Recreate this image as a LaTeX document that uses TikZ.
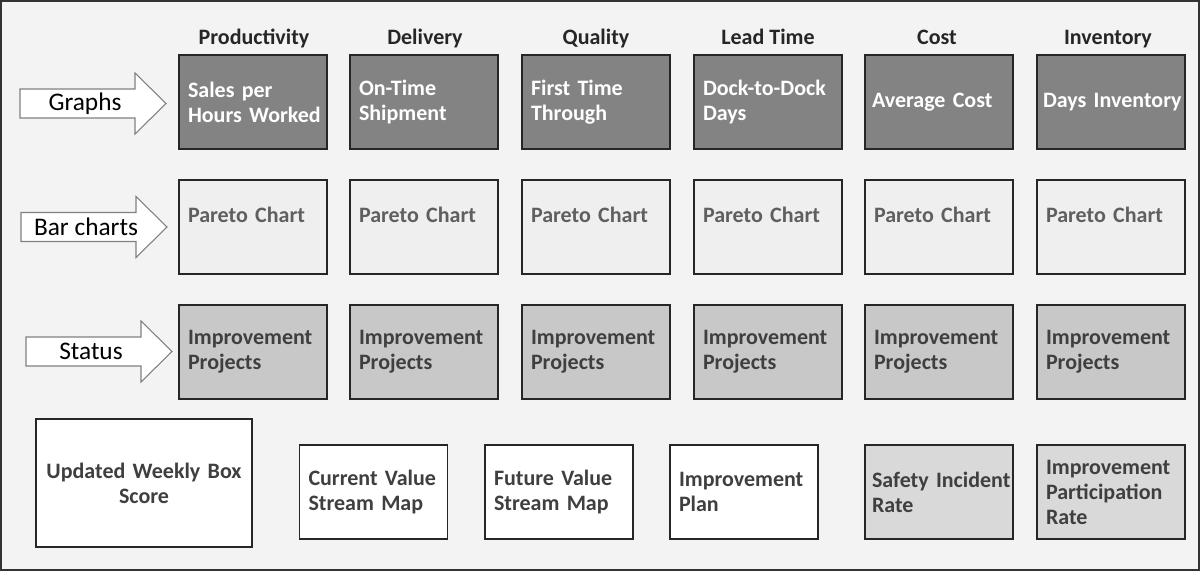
\documentclass[tikz,border=0pt]{standalone}
\usepackage{fontspec}
\setmainfont{Carlito}
\usepackage{tikz}
\usetikzlibrary{calc}
\definecolor{bgcol}{HTML}{F3F3F3}
\definecolor{framecol}{HTML}{333333}
\definecolor{kpidark}{HTML}{838383}
\definecolor{kpilight}{HTML}{EFEFEF}
\definecolor{kpimid}{HTML}{C8C8C8}
\definecolor{kpisafe}{HTML}{D9D9D9}
\definecolor{txtdark}{HTML}{3F3F3F}
\definecolor{txtgray}{HTML}{5F5F5F}
\def\nohyph{\hyphenpenalty=10000\relax\exhyphenpenalty=10000\relax}
\tikzset{
	boxfont/.style={font=\fontsize{16.5}{18.75}\selectfont\bfseries\nohyph},
	kpibox/.style={draw=black!85, line width=1.1pt, boxfont, align=left, text width=130*0.75pt, inner xsep=9*0.75pt, minimum width=111pt, minimum height=70.5pt},
	graphbox/.style={kpibox, fill=kpidark, text=white},
	paretobox/.style={kpibox, fill=kpilight, text=txtgray},
	projbox/.style={kpibox, fill=kpimid, text=txtdark},
	plainbox/.style={kpibox, fill=white, text=txtdark},
	safebox/.style={kpibox, fill=kpisafe, text=txtdark},
	header/.style={boxfont, text=black!85, anchor=base},
	arrowline/.style={draw=black!50, line width=0.8pt, fill=white},
	arrowtext/.style={font=\fontsize{19}{22}\selectfont, text=black}
}
\def\blockarrow(#1,#2)#3#4{%
	\draw[arrowline] (#1,#2-14.5) -- ++(115,0) -- ++(0,-16) -- (#1+146,#2) -- (#1+115,#2+30.5) -- ++(0,-16) -- (#1,#2+14.5) -- cycle;
	\node[arrowtext] (#3) at (#1+65,#2) {#4};}

\begin{document}
\begin{tikzpicture}[x=0.75pt, y=-0.75pt]
			%%%%% START %%%%%
			
			\useasboundingbox (0,0) rectangle (1200,571);
			\draw[fill=bgcol, draw=framecol, line width=1.2pt] (0.8,0.8) rectangle (1199.2,570.2);
			
			% column headings
			\node[header] (hprod) at (254, 44) {Productivity};
			\node[header] (hdel) at (425, 44) {Delivery};
			\node[header] (hqual) at (596, 44) {Quality};
			\node[header] (hlead) at (768, 44) {Lead Time};
			\node[header] (hcost) at (937, 44) {Cost};
			\node[header] (hinv) at (1108, 44) {Inventory};
			
			% row labels
			\blockarrow(20,103.5){agraph}{Graphs}
			\blockarrow(21,227){abar}{Bar charts}
			\blockarrow(26,351.5){astat}{Status}
			
			% graphs
			\node[graphbox] (gprod) at (253, 102) {Sales per\\Hours~Worked};
			\node[graphbox] (gdel) at (424, 102) {On-Time\\Shipment};
			\node[graphbox] (gqual) at (596, 102) {First Time\\Through};
			\node[graphbox] (glead) at (768, 102) {Dock-to-Dock\\Days};
			\node[graphbox, inner xsep=7*0.75pt, text width=134*0.75pt] (gcost) at (939, 102) {Average Cost};
			\node[graphbox, inner xsep=6*0.75pt, text width=136*0.75pt] (ginv) at (1111, 102) {Days~Inventory};
			
			% bar charts
			\node[paretobox] (pprod) at (253, 227) {Pareto Chart\\\mbox{}};
			\node[paretobox] (pdel) at (424, 227) {Pareto Chart\\\mbox{}};
			\node[paretobox] (pqual) at (596, 227) {Pareto Chart\\\mbox{}};
			\node[paretobox] (plead) at (768, 227) {Pareto Chart\\\mbox{}};
			\node[paretobox] (pcost) at (939, 227) {Pareto Chart\\\mbox{}};
			\node[paretobox] (pinv) at (1111, 227) {Pareto Chart\\\mbox{}};
			
			% status
			\node[projbox] (sprod) at (253, 352) {Improvement\\Projects};
			\node[projbox] (sdel) at (424, 352) {Improvement\\Projects};
			\node[projbox] (squal) at (596, 352) {Improvement\\Projects};
			\node[projbox] (slead) at (768, 352) {Improvement\\Projects};
			\node[projbox] (scost) at (939, 352) {Improvement\\Projects};
			\node[projbox] (sinv) at (1111, 352) {Improvement\\Projects};
			
			% bottom row
			\node[plainbox, align=center, text width=198*0.75pt, minimum height=96pt] (boxscore) at (144, 483) {Updated Weekly Box\\Score};
			\node[plainbox] (curvsm) at (373.5, 492) {Current Value\\Stream Map};
			\node[plainbox] (futvsm) at (559, 492) {Future Value\\Stream Map};
			\node[plainbox] (implan) at (744, 492) {Improvement\\Plan};
			\node[safebox, inner xsep=7*0.75pt, text width=134*0.75pt] (safety) at (939, 492) {Safety~Incident\\Rate};
			\node[safebox] (partic) at (1111, 492) {Improvement\\Participation\\Rate};
			
			%%%%% END %%%%%
		\end{tikzpicture}
\end{document}
